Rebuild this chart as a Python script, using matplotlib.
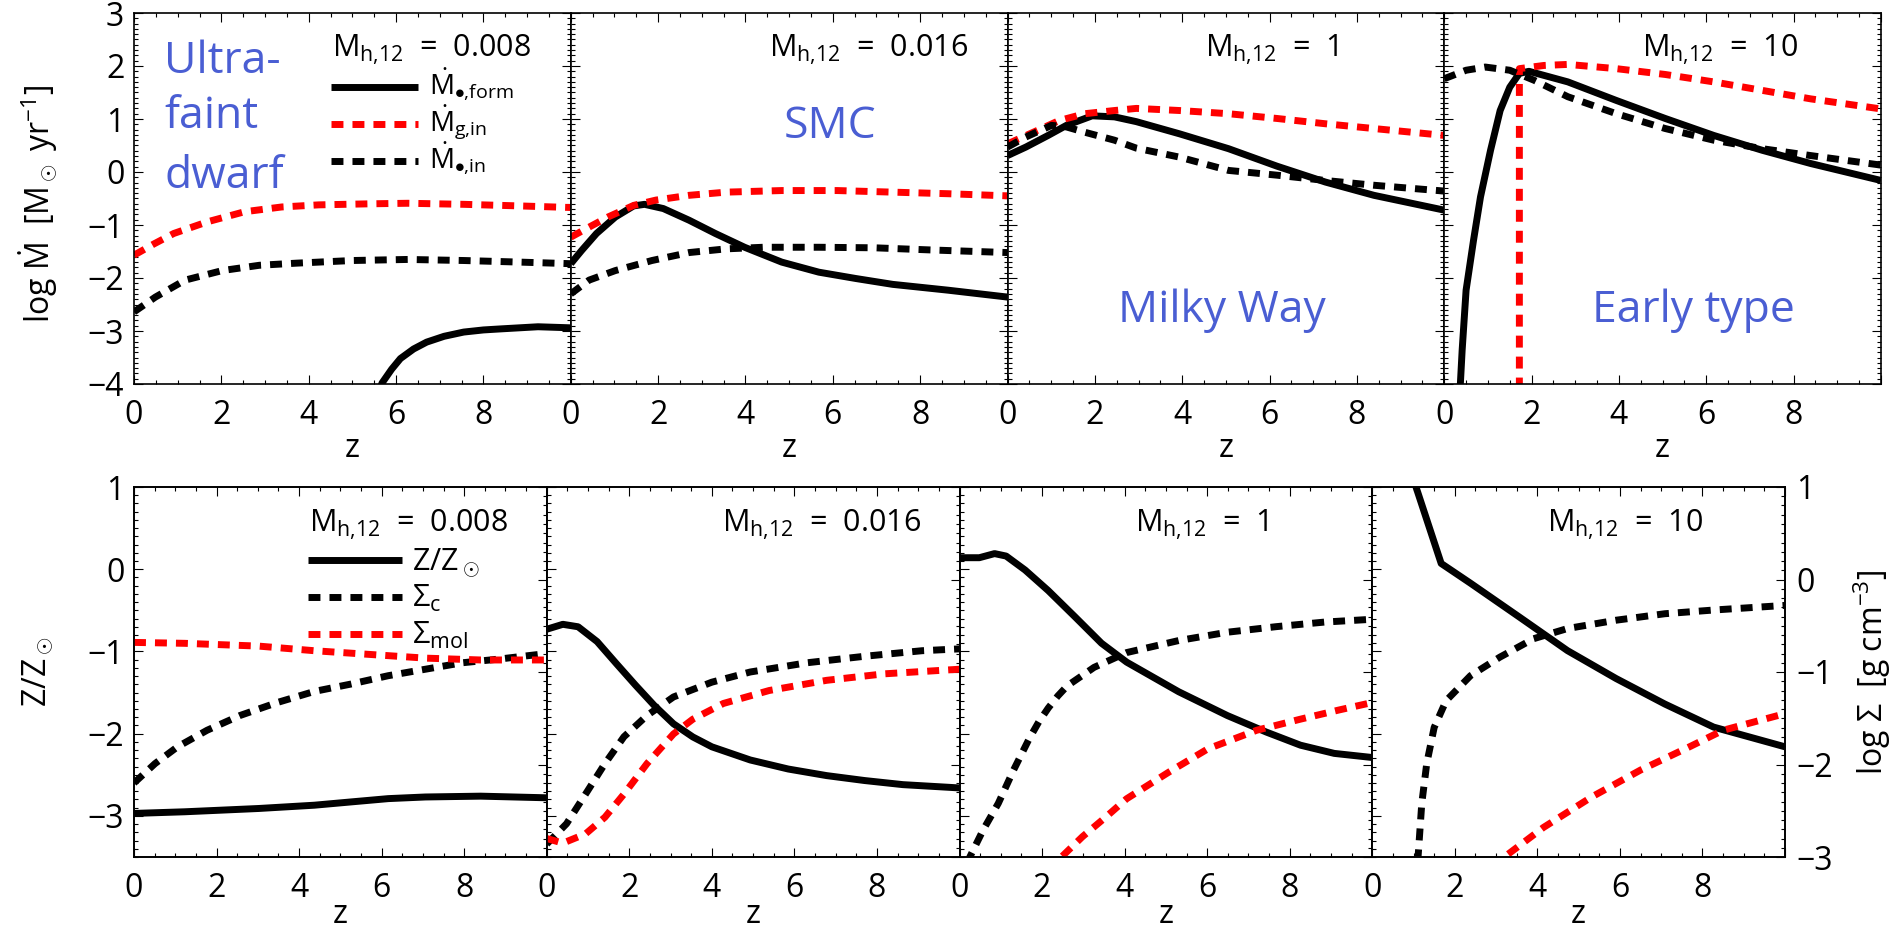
import matplotlib
matplotlib.use('Agg')
import matplotlib.pyplot as plt
from matplotlib.ticker import MultipleLocator, FixedLocator, FuncFormatter

plt.rcParams['font.family'] = ['Open Sans', 'DejaVu Sans']
plt.rcParams['mathtext.fontset'] = 'custom'
plt.rcParams['mathtext.rm'] = 'Open Sans'
plt.rcParams['mathtext.it'] = 'Open Sans:italic'
plt.rcParams['mathtext.bf'] = 'Open Sans:bold'
plt.rcParams['lines.scale_dashes'] = False

# ---------------- data ----------------
halo_mass = ['0.008', '0.016', '1', '10']
galaxy_name = ['Ultra-\nfaint\ndwarf', 'SMC', 'Milky Way', 'Early type']

# top row: log Mdot [Msun/yr] vs z
z_form = [
    [5.5, 5.68, 5.9, 6.1, 6.4, 6.7, 7.1, 7.55, 8.0, 8.4, 9.25, 10],
    [0, 0.25, 0.59, 1.02, 1.44, 1.69, 2.12, 2.71, 3.31, 3.98, 4.83, 5.68, 6.53, 7.37, 8.64, 10],
    [0, 0.42, 0.93, 1.35, 1.94, 2.45, 2.95, 3.94, 5.06, 6.17, 7.28, 8.39, 10],
    [0.33, 0.37, 0.41, 0.5, 0.67, 0.83, 1.06, 1.28, 1.5, 1.72, 1.94, 2.83, 3.94, 5.06, 6.17, 7.28, 8.39, 10],
]
mdot_form = [
    [-4.4, -3.98, -3.72, -3.52, -3.34, -3.21, -3.10, -3.02, -2.98, -2.96, -2.92, -2.94],
    [-1.73, -1.48, -1.16, -0.85, -0.64, -0.61, -0.69, -0.91, -1.16, -1.42, -1.70, -1.89, -2.01, -2.12, -2.23, -2.36],
    [0.31, 0.47, 0.69, 0.88, 1.06, 1.04, 0.95, 0.72, 0.44, 0.11, -0.19, -0.44, -0.72],
    [-4.5, -3.98, -3.36, -2.23, -1.29, -0.47, 0.41, 1.16, 1.60, 1.86, 1.90, 1.70, 1.35, 1.01, 0.69, 0.41, 0.16, -0.16],
]
z_gin = [
    [0, 0.45, 0.91, 1.68, 2.53, 3.38, 4.23, 5.42, 6.27, 7.55, 8.83, 10],
    [0, 0.42, 0.85, 1.44, 1.95, 2.71, 3.56, 4.83, 6.1, 7.37, 8.64, 10],
    [0, 0.51, 1.18, 1.77, 2.45, 2.95, 3.94, 5.06, 6.17, 7.28, 8.39, 10],
    [1.72, 1.72, 2.28, 2.83, 3.94, 5.06, 6.17, 7.28, 8.39, 10],
]
mdot_gin = [
    [-1.57, -1.36, -1.16, -0.94, -0.75, -0.66, -0.62, -0.60, -0.59, -0.61, -0.64, -0.67],
    [-1.23, -1.04, -0.85, -0.63, -0.53, -0.44, -0.38, -0.35, -0.35, -0.38, -0.41, -0.45],
    [0.53, 0.72, 0.97, 1.10, 1.16, 1.20, 1.16, 1.10, 1.01, 0.91, 0.82, 0.69],
    [-4.5, 1.95, 2.01, 2.03, 1.95, 1.84, 1.70, 1.54, 1.38, 1.19],
]
z_sin = [
    [0, 0.49, 1.17, 2.02, 2.87, 3.72, 5.0, 6.27, 7.55, 8.83, 10],
    [0, 0.42, 1.02, 1.86, 2.71, 3.56, 4.41, 5.68, 6.95, 8.22, 10],
    [0, 0.42, 1.01, 1.35, 1.77, 2.45, 2.95, 3.94, 5.06, 6.17, 7.28, 8.39, 10],
    [0, 0.5, 0.94, 1.5, 2.06, 2.83, 3.94, 5.06, 6.17, 7.28, 8.39, 10],
]
mdot_sin = [
    [-2.64, -2.36, -2.04, -1.86, -1.76, -1.72, -1.67, -1.65, -1.67, -1.70, -1.73],
    [-2.30, -2.04, -1.86, -1.67, -1.52, -1.45, -1.42, -1.42, -1.43, -1.47, -1.52],
    [0.47, 0.66, 0.88, 0.85, 0.75, 0.60, 0.45, 0.28, 0.03, -0.06, -0.16, -0.25, -0.36],
    [1.76, 1.92, 1.98, 1.92, 1.73, 1.42, 1.10, 0.82, 0.60, 0.44, 0.31, 0.13],
]

# bottom row: log Z/Zsun (left axis), log Sigma [g cm^-3] (right axis)
z_met = [
    [0, 1.23, 3.02, 4.37, 5.26, 6.16, 7.06, 8.4, 10],
    [0, 0.39, 0.76, 1.22, 1.69, 2.15, 2.61, 3.07, 3.54, 4.0, 4.93, 5.85, 6.78, 7.7, 8.63, 10],
    [0, 0.48, 0.85, 1.13, 1.59, 2.15, 2.8, 3.44, 4.05, 5.31, 6.49, 7.43, 8.26, 9.08, 10],
    [0.98, 1.06, 1.67, 2.38, 3.56, 4.73, 5.91, 7.09, 8.27, 10],
]
met = [
    [-2.97, -2.95, -2.91, -2.87, -2.83, -2.79, -2.77, -2.76, -2.78],
    [-0.73, -0.67, -0.70, -0.88, -1.15, -1.41, -1.66, -1.88, -2.04, -2.16, -2.32, -2.43, -2.51, -2.57, -2.62, -2.66],
    [0.14, 0.14, 0.19, 0.16, -0.01, -0.26, -0.58, -0.90, -1.13, -1.49, -1.78, -1.98, -2.14, -2.24, -2.29],
    [1.3, 1.0, 0.07, -0.17, -0.58, -0.99, -1.33, -1.64, -1.92, -2.16],
]
z_sigc = [
    [0, 0.51, 1.05, 1.77, 2.57, 3.47, 4.37, 5.26, 6.16, 7.06, 7.96, 8.85, 10],
    [0, 0.48, 0.94, 1.41, 1.87, 2.43, 3.07, 4.0, 4.93, 6.31, 7.7, 9.09, 10],
    [0.15, 0.25, 0.57, 0.94, 1.31, 1.69, 1.92, 2.15, 2.38, 2.61, 3.26, 4.05, 5.31, 6.49, 7.67, 8.85, 10],
    [1.08, 1.11, 1.2, 1.32, 1.5, 1.79, 2.38, 3.09, 3.91, 4.73, 5.91, 7.09, 8.27, 10],
]
sigc = [
    [-2.20, -1.99, -1.81, -1.63, -1.47, -1.33, -1.21, -1.13, -1.04, -0.97, -0.90, -0.86, -0.80],
    [-2.86, -2.64, -2.32, -1.99, -1.70, -1.47, -1.27, -1.11, -1.00, -0.90, -0.83, -0.77, -0.75],
    [-3.3, -3.0, -2.71, -2.42, -2.06, -1.72, -1.54, -1.39, -1.26, -1.15, -0.95, -0.79, -0.66, -0.57, -0.51, -0.46, -0.43],
    [-3.5, -3.0, -2.42, -1.99, -1.60, -1.31, -1.04, -0.84, -0.64, -0.53, -0.44, -0.37, -0.33, -0.28],
]
z_sigmol = [
    [0, 1.23, 3.02, 4.37, 5.71, 7.06, 8.4, 10],
    [0, 0.39, 0.94, 1.41, 1.87, 2.43, 3.07, 3.54, 4.28, 5.39, 6.78, 8.17, 10],
    [2.3, 2.47, 2.98, 3.54, 4.05, 5.08, 6.02, 7.2, 8.26, 9.2, 10],
    [3.0, 3.2, 4.15, 5.32, 6.5, 7.68, 8.5, 10],
]
sigmol = [
    [-0.68, -0.69, -0.72, -0.77, -0.81, -0.85, -0.87, -0.87],
    [-2.80, -2.85, -2.75, -2.57, -2.32, -1.99, -1.67, -1.51, -1.34, -1.20, -1.09, -1.02, -0.97],
    [-3.2, -3.0, -2.78, -2.57, -2.37, -2.08, -1.83, -1.63, -1.51, -1.41, -1.33],
    [-3.15, -3.0, -2.68, -2.35, -2.06, -1.81, -1.63, -1.45],
]

# ---------------- figure ----------------
W, H = 1893, 934
fig = plt.figure(figsize=(W / 100, H / 100), dpi=100)

LW = 5
DASH = (8.6, 6.5)
BLUE = '#4a5ed3'
FS = 23

xfmt = FuncFormatter(lambda v, p: '' if v > 9 else '%d' % v)


def style_axes(ax, zlab_y, left=True, right=True, ylab=False):
    ax.set_xlim(0, 10)
    ax.xaxis.set_major_locator(FixedLocator([0, 2, 4, 6, 8, 10]))
    ax.xaxis.set_major_formatter(xfmt)
    ax.xaxis.set_minor_locator(MultipleLocator(0.5))
    ax.yaxis.set_major_locator(MultipleLocator(1))
    ax.yaxis.set_minor_locator(MultipleLocator(0.1))
    ax.tick_params(which='both', direction='in', top=True, left=left, right=right,
                   labelleft=ylab, labelsize=FS, width=0.8)
    ax.tick_params(axis='x', pad=11)
    ax.tick_params(axis='y', pad=7)
    ax.tick_params(which='major', length=6.5)
    ax.tick_params(which='minor', length=3)
    for s in ax.spines.values():
        s.set_linewidth(1.2)
    ax.set_xlabel('z', fontsize=FS)
    ax.xaxis.label.set_va('baseline')
    ax.xaxis.set_label_coords(0.5, zlab_y)


MH = r'M$_{\rm h{,}12}$  =  '

# top row
pw = 436.75
for i in range(4):
    ax = fig.add_axes([(134 + i * pw) / W, 1 - 384 / H, pw / W, 371 / H])
    style_axes(ax, -0.197, ylab=(i == 0))
    ax.set_ylim(-4, 3)
    ax.plot(z_form[i], mdot_form[i], color='black', lw=LW, solid_capstyle='butt')
    ax.plot(z_gin[i], mdot_gin[i], color='red', lw=LW, dashes=DASH, dash_capstyle='butt')
    ax.plot(z_sin[i], mdot_sin[i], color='black', lw=LW, dashes=DASH, dash_capstyle='butt')
    ax.text(0.453, 0.881, MH + halo_mass[i], transform=ax.transAxes,
            fontsize=22, ha='left', va='baseline')
    if i == 0:
        for k, (c, st, lab) in enumerate([
                ('black', None, r'$\dot{\rm M}_{\bullet{,}\rm form}$'),
                ('red', DASH, r'$\dot{\rm M}_{\rm g{,}in}$'),
                ('black', DASH, r'$\dot{\rm M}_{\bullet{,}\rm in}$')]):
            yy = 0.800 - k * 0.0995
            kw = dict(dashes=st, dash_capstyle='butt') if st else dict(solid_capstyle='butt')
            ax.plot([0.451, 0.650], [yy, yy], transform=ax.transAxes, color=c, lw=LW, **kw)
            ax.text(0.675, yy - 0.020, lab, transform=ax.transAxes, fontsize=20,
                    ha='left', va='baseline')
        for t, yb in zip(galaxy_name[0].split('\n'), [0.837, 0.689, 0.527]):
            ax.text(0.069, yb, t, transform=ax.transAxes, color=BLUE, fontsize=32,
                    ha='left', va='baseline')
    elif i == 1:
        ax.text(0.487, 0.663, galaxy_name[1], transform=ax.transAxes, color=BLUE,
                fontsize=32, ha='left', va='baseline')
    else:
        ax.text([0, 0, 0.254, 0.339][i], 0.167, galaxy_name[i], transform=ax.transAxes,
                color=BLUE, fontsize=32, ha='left', va='baseline')

# bottom row
pw = 412.75
for i in range(4):
    ax = fig.add_axes([(134 + i * pw) / W, 1 - 857 / H, pw / W, 370 / H])
    style_axes(ax, -0.178, right=False, ylab=(i == 0))
    ax.set_ylim(-3.5, 1)
    ax2 = ax.twinx()
    ax2.set_ylim(-3, 1)
    ax2.yaxis.set_major_locator(MultipleLocator(1))
    ax2.yaxis.set_minor_locator(MultipleLocator(0.1))
    ax2.tick_params(which='both', direction='in', left=False, right=True,
                    labelright=(i == 3), labelsize=FS, width=0.8, pad=8)
    ax2.tick_params(which='major', length=6.5)
    ax2.tick_params(which='minor', length=3)
    for s in ax2.spines.values():
        s.set_linewidth(1.2)
    ax.plot(z_met[i], met[i], color='black', lw=LW, solid_capstyle='butt')
    ax2.plot(z_sigc[i], sigc[i], color='black', lw=LW, dashes=DASH, dash_capstyle='butt')
    ax2.plot(z_sigmol[i], sigmol[i], color='red', lw=LW, dashes=DASH, dash_capstyle='butt')
    ax2.text(0.424, 0.878, MH + halo_mass[i], transform=ax.transAxes,
             fontsize=22, ha='left', va='baseline')
    if i == 0:
        for k, (c, st, lab) in enumerate([
                ('black', None, r'Z/Z$_\odot$'),
                ('black', DASH, r'$\Sigma_{\rm c}$'),
                ('red', DASH, r'$\Sigma_{\rm mol}$')]):
            yy = 0.803 - k * 0.1
            kw = dict(dashes=st, dash_capstyle='butt') if st else dict(solid_capstyle='butt')
            ax2.plot([0.421, 0.649], [yy, yy], transform=ax.transAxes, color=c, lw=LW, **kw)
            ax2.text(0.673, yy - 0.027, lab, transform=ax.transAxes, fontsize=22,
                     ha='left', va='baseline')

fig.text(38 / W, 1 - 204 / H, r'log $\dot{\rm M}$  [M$_\odot$ yr$^{-1}$]', rotation=90,
         ha='center', va='center', fontsize=FS)
fig.text(38 / W, 1 - 672 / H, r'Z/Z$_\odot$', rotation=90, ha='center', va='center', fontsize=FS)
fig.text(1872 / W, 1 - 672 / H, r'log $\Sigma$  [g cm$^{-3}$]', rotation=90,
         ha='center', va='center', fontsize=FS)

fig.savefig('out.png', dpi=100)
